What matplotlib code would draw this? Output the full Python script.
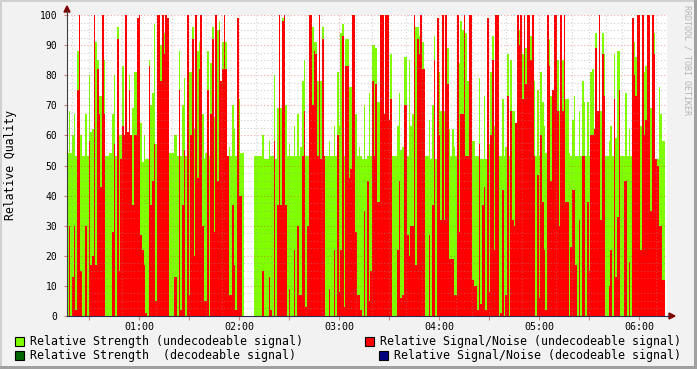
import numpy as np
import matplotlib
matplotlib.use("Agg")
import matplotlib.pyplot as plt
from matplotlib.patches import Rectangle, Polygon

nan = float("nan")

# ---- data (1-minute samples starting 00:16:48) ----
start_minute = 16.8
strength = [
    54,68,54,60,67,53,88,60,60,53, 53,67,53,80,61,62,61,91,85,73, 73,53,85,53,53,54,54,67,80,53,
    96,60,60,83,60,60,61,80,60,69, 81,81,99,64,64,51,60,52,52,85, 70,74,97,57,93,100,90,100,94,100,
    99,54,54,54,60,60,53,88,53,70, 79,53,100,81,81,96,62,100,88,91, 100,67,52,54,88,53,84,96,66,100,
    95,98,78,91,100,91,53,56,53,70, 62,53,99,72,54,54,nan,nan,nan,nan, nan,nan,53,53,53,53,53,60,52,52,
    52,58,53,53,80,52,69,69,69,99, 100,70,53,57,53,53,63,53,67,53, 56,78,85,53,53,67,100,96,91,91,
    78,100,78,96,53,53,53,58,53,53, 63,53,81,63,94,97,53,92,92,76, 76,100,100,67,53,56,53,52,70,52,
    53,74,53,90,90,89,71,71,100,100, 67,100,100,65,87,53,53,53,63,74, 55,56,86,86,53,85,63,67,60,96,
    96,93,100,91,53,53,53,65,52,70, 93,52,99,81,68,100,68,100,89,62, 53,62,56,53,100,84,98,95,100,94,
    78,90,100,58,58,53,53,79,52,52, 73,52,99,57,81,93,63,100,98,53, 53,72,53,56,87,53,85,68,68,64,
    100,95,100,87,100,89,100,100,93,100, 78,53,75,53,81,71,63,54,100,92, 73,75,94,100,85,68,100,85,100,72,
    72,54,53,65,73,53,53,68,53,78, 71,53,71,53,81,82,62,94,53,100, 68,94,87,53,53,58,63,53,87,59,
    88,88,53,53,53,74,53,62,53,99, 91,86,63,100,63,100,81,83,83,100, 69,100,94,52,52,76,67,58,58,
]
snr = [
    0,30,0,13,30,2,75,100,15,0, 0,30,0,58,17,20,100,17,82,67, 43,100,67,0,0,0,0,28,57,0,
    92,15,52,63,60,100,61,75,60,37, 60,60,99,100,27,22,17,1,0,83, 37,45,57,5,100,100,78,100,87,100,
    99,0,0,0,13,13,0,75,2,37, 55,0,100,7,60,92,20,100,46,82, 100,30,5,5,75,0,67,92,28,100,
    45,95,78,82,100,82,53,7,7,37, 17,2,99,40,40,0,nan,nan,nan,nan, nan,nan,0,0,0,0,0,15,0,0,
    0,13,2,0,58,0,37,100,37,98, 100,37,0,9,0,0,22,0,30,7, 7,53,68,3,30,100,100,70,88,87,
    53,100,52,92,53,0,0,9,0,0, 22,0,60,8,22,93,3,83,83,46, 49,100,100,28,7,7,2,0,35,0,
    45,5,15,78,53,77,38,38,100,100, 67,100,100,65,72,0,0,0,22,45, 6,7,70,70,27,20,30,30,100,17,
    92,87,100,82,82,0,0,27,0,37, 85,0,99,60,32,100,32,100,77,19, 19,19,7,7,100,28,67,67,100,53,
    53,100,100,12,10,10,2,57,4,37, 43,2,99,8,60,85,22,100,100,0, 1,42,0,7,73,0,68,32,30,64,
    100,90,100,72,100,77,100,100,85,100, 53,0,47,6,60,38,22,2,100,83, 45,75,100,100,68,30,100,68,100,38,
    38,0,23,42,42,17,0,32,0,53, 53,0,38,15,60,60,62,89,68,100, 32,87,73,0,0,10,22,0,72,13,
    33,75,0,0,45,45,0,18,0,99, 80,73,100,100,22,100,60,65,100,100, 35,100,87,52,50,30,30,12,12,
]
hour_labels = ["01:00", "02:00", "03:00", "04:00", "05:00", "06:00"]
legend_labels = [
    "Relative Strength (undecodeable signal)",
    "Relative Strength  (decodeable signal)",
    "Relative Signal/Noise (undecodeable signal)",
    "Relative Signal/Noise (decodeable signal)",
]
y_label = "Relative Quality"
watermark = "RRDTOOL / TOBI OETIKER"

# ---- styling ----
C_STR = "#80FF00"
C_STR_DEC = "#006600"
C_SNR = "#FF0000"
C_SNR_DEC = "#000080"
BACK = "#F2F2F2"
MONO = "DejaVu Sans Mono"

W, H = 697, 369
fig = plt.figure(figsize=(W / 100, H / 100), dpi=100, facecolor=BACK)

L, R, T, B = 67, 667, 15, 316
ax = fig.add_axes([L / W, 1 - B / H, (R - L) / W, (B - T) / H])
ax.set_facecolor("white")

t = start_minute + np.arange(len(strength))
ax.bar(t, strength, width=1.0, align="edge", color=C_STR, linewidth=0, antialiased=False, zorder=1)
ax.bar(t, snr, width=1.0, align="edge", color=C_SNR, linewidth=0, antialiased=False, zorder=1.1)

x0 = start_minute
x1 = start_minute + (R - L) / (100 / 60)
ax.set_xlim(x0, x1)
ax.set_ylim(0, 100)

# grid (drawn on top like rrdtool)
dots = (0, (1, 2))
for m in range(20, int(x1) + 1, 10):
    if m % 60 == 0:
        ax.axvline(m, color=(0.94, 0.0, 0.0, 0.35), lw=0.8, ls=dots, zorder=3)
    else:
        ax.axvline(m, color=(0.6, 0.6, 0.6, 0.45), lw=0.8, ls=dots, zorder=3)
for v in np.arange(2.5, 100.01, 2.5):
    if abs(v % 10) < 1e-9:
        ax.axhline(v, color=(0.94, 0.0, 0.0, 0.35), lw=0.8, ls=dots, zorder=3)
    else:
        ax.axhline(v, color=(0.6, 0.6, 0.6, 0.45), lw=0.8, ls=dots, zorder=3)

xt = list(range(30, int(x1) + 1, 30))
ax.set_xticks(xt)
ax.set_xticklabels([hour_labels[i // 2] if i % 2 == 1 else "" for i in range(len(xt))],
                   fontsize=7.2, family=MONO)
ax.set_yticks(list(range(0, 101, 10)))
ax.set_yticklabels([str(v) for v in range(0, 101, 10)], fontsize=7.0, family=MONO)
ax.tick_params(axis="x", length=3, width=0.8, color="#D08080", pad=1)
ax.tick_params(axis="y", length=2, width=0.8, color="#D08080", pad=5)
for s in ["top", "right"]:
    ax.spines[s].set_visible(False)
ax.spines["left"].set_color("#404040")
ax.spines["bottom"].set_color("#2C2C50")
ax.spines["left"].set_zorder(4)
ax.spines["bottom"].set_zorder(4)

# ---- overlay in pixel coordinates ----
ov = fig.add_axes([0, 0, 1, 1], zorder=10)
ov.set_xlim(0, W)
ov.set_ylim(H, 0)
ov.axis("off")
ov.patch.set_alpha(0)

# y axis title
ov.text(11, 165, y_label, rotation=90, ha="center", va="center", fontsize=8.3, family=MONO, color="black")

# axis extensions and arrows
ov.plot([L, L], [T, 10], color="#404040", lw=0.8)
ov.add_patch(Polygon([[L, 6], [L - 3, 12], [L + 3, 12]], closed=True, color="#7F0000"))
ov.plot([R, 669], [B, B], color="#2C2C50", lw=0.8)
ov.add_patch(Polygon([[675, B], [669, B - 3], [669, B + 3]], closed=True, color="#7F0000"))

# frame shading
ov.add_patch(Rectangle((0, 0), W, 2, color="#D0D0D0", lw=0))
ov.add_patch(Rectangle((0, 0), 2, H, color="#D0D0D0", lw=0))
ov.add_patch(Rectangle((0, H - 3), W, 3, color="#A0A0A0", lw=0))
ov.add_patch(Rectangle((W - 3, 0), 3, H, color="#A0A0A0", lw=0))

# watermark
ov.text(687, 5, watermark, rotation=-90, ha="center", va="top", fontsize=6, family=MONO, color="#B4B4B4")

# legend
legend_items = [
    (15, 337, C_STR, 30, legend_labels[0]),
    (15, 351, C_STR_DEC, 30, legend_labels[1]),
    (365, 337, C_SNR, 380, legend_labels[2]),
    (379, 351, C_SNR_DEC, 394, legend_labels[3]),
]
for bx, by, col, tx, lab in legend_items:
    ov.add_patch(Rectangle((bx, by), 9, 9, facecolor=col, edgecolor="black", lw=0.8))
    ov.text(tx, by + 4.8, lab, ha="left", va="center", fontsize=8.4, family=MONO, color="black")

fig.savefig("out.png", dpi=100, facecolor=BACK)
